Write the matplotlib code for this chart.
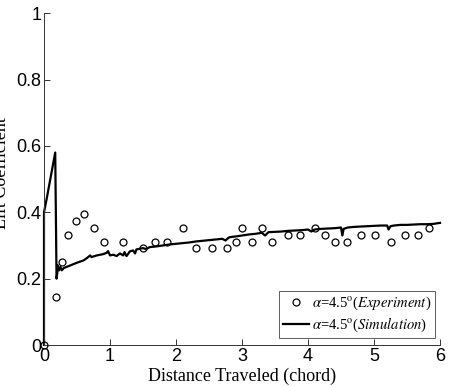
import matplotlib
matplotlib.use("Agg")
import matplotlib.pyplot as plt
from matplotlib.lines import Line2D

# Experimental data (circles)
exp_x = [0.0, 0.18, 0.27, 0.36, 0.49, 0.61, 0.76, 0.91, 1.19, 1.50, 1.68, 1.87,
         2.11, 2.30, 2.54, 2.78, 2.91, 3.00, 3.15, 3.30, 3.46, 3.70, 3.88, 4.10,
         4.25, 4.41, 4.59, 4.80, 5.02, 5.26, 5.47, 5.66, 5.84]
exp_y = [0.0, 0.145, 0.249, 0.333, 0.374, 0.395, 0.353, 0.311, 0.311, 0.291, 0.311, 0.311,
         0.353, 0.291, 0.291, 0.291, 0.311, 0.353, 0.311, 0.353, 0.311, 0.332, 0.332, 0.353,
         0.332, 0.311, 0.311, 0.332, 0.332, 0.311, 0.332, 0.332, 0.353]

# Simulation (solid line)
sim_x = [0.0, 0.0, 0.04, 0.17, 0.19, 0.20, 0.21, 0.23, 0.25, 0.27, 0.30, 0.35, 0.40,
         0.50, 0.60, 0.65, 0.70, 0.72, 0.80, 0.90, 0.95, 0.97, 1.00, 1.05, 1.10,
         1.15, 1.20, 1.22, 1.25, 1.30, 1.35, 1.38, 1.40, 1.45, 1.50, 1.55, 1.60,
         1.70, 1.80, 1.90, 2.00, 2.10, 2.20, 2.30, 2.40, 2.50, 2.60, 2.70, 2.75,
         2.80, 2.85, 2.90, 3.00, 3.10, 3.20, 3.30, 3.35, 3.40, 3.50, 3.60, 3.70,
         3.80, 3.90, 4.00, 4.05, 4.10, 4.20, 4.30, 4.40, 4.50, 4.52, 4.54, 4.60,
         4.70, 4.80, 4.90, 5.00, 5.10, 5.20, 5.22, 5.25, 5.30, 5.40, 5.50, 5.60,
         5.70, 5.80, 5.90, 6.00]
sim_y = [0.0, 0.40, 0.44, 0.58, 0.20, 0.215, 0.24, 0.225, 0.235, 0.225, 0.232, 0.236, 0.240,
         0.248, 0.255, 0.262, 0.270, 0.265, 0.270, 0.274, 0.278, 0.283, 0.270, 0.272, 0.268,
         0.276, 0.270, 0.280, 0.268, 0.282, 0.285, 0.276, 0.288, 0.290, 0.292, 0.289, 0.295,
         0.297, 0.300, 0.303, 0.305, 0.307, 0.309, 0.312, 0.314, 0.316, 0.318, 0.320, 0.315,
         0.324, 0.326, 0.327, 0.330, 0.333, 0.335, 0.338, 0.330, 0.340, 0.341, 0.342, 0.344,
         0.345, 0.346, 0.348, 0.342, 0.348, 0.350, 0.351, 0.352, 0.354, 0.330, 0.350, 0.354,
         0.356, 0.357, 0.358, 0.359, 0.360, 0.360, 0.348, 0.358, 0.360, 0.362, 0.362, 0.363,
         0.364, 0.364, 0.365, 0.368]

x_ticks = [0, 1, 2, 3, 4, 5, 6]
y_ticks = [0, 0.2, 0.4, 0.6, 0.8, 1]
y_tick_labels = ["0", "0.2", "0.4", "0.6", "0.8", "1"]

plt.rcParams['mathtext.fontset'] = 'stix'

fig = plt.figure(figsize=(4.49, 3.87), dpi=100)
ax = fig.add_axes([0.098, 0.1085, 0.882, 0.8575])

ax.plot(exp_x, exp_y, linestyle='none', marker='o', markersize=5,
        markerfacecolor='none', markeredgecolor='black', markeredgewidth=0.9,
        clip_on=False, zorder=3)
ax.plot(sim_x, sim_y, color='black', linewidth=1.6, clip_on=False, zorder=2)

ax.set_xlim(0, 6)
ax.set_ylim(0, 1)
ax.set_xticks(x_ticks)
ax.set_yticks(y_ticks)
ax.set_yticklabels(y_tick_labels)
for s in ['top', 'right']:
    ax.spines[s].set_visible(False)
for s in ['left', 'bottom']:
    ax.spines[s].set_color('#333333')
    ax.spines[s].set_linewidth(0.7)
ax.tick_params(direction='in', length=4, width=0.7, color='#333333',
               labelsize=13, pad=2)
for lbl in ax.get_xticklabels() + ax.get_yticklabels():
    lbl.set_family('Liberation Sans')

ax.set_xlabel('Distance Traveled (chord)', family='Liberation Serif',
              fontsize=13, labelpad=2)
ax.set_ylabel('Lift Coefficient', family='Liberation Serif', fontsize=13)
ax.yaxis.set_label_coords(-0.085, 0.518)

handles = [
    Line2D([], [], linestyle='none', marker='o', markersize=5,
           markerfacecolor='none', markeredgecolor='black', markeredgewidth=0.9),
    Line2D([], [], color='black', linewidth=1.6),
]
labels = [r'$\alpha$=4.5$^{\rm o}$($\it{Experiment}$)',
          r'$\alpha$=4.5$^{\rm o}$($\it{Simulation}$)']
leg = ax.legend(handles, labels, loc='lower right', bbox_to_anchor=(0.995, 0.012),
                prop={'family': 'Liberation Serif', 'size': 10.5},
                frameon=True, fancybox=False, edgecolor='#333333',
                handlelength=1.8, handletextpad=0.2, borderpad=0.25,
                labelspacing=0.25, borderaxespad=0.2)
leg.get_frame().set_linewidth(0.7)

fig.savefig('out.png', dpi=100)
